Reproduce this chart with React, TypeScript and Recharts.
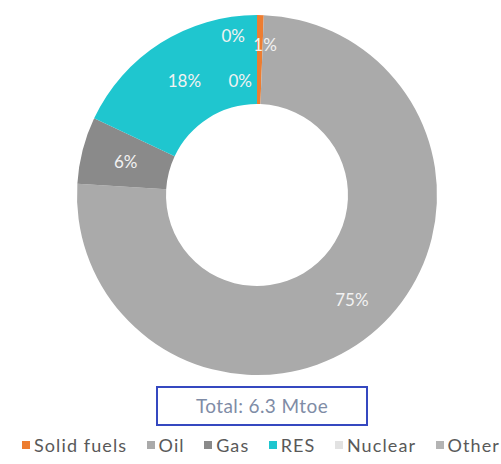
import React from "react";
import { Cell, Legend, Pie, PieChart } from "recharts";

const fuels = ["Solid fuels", "Oil", "Gas", "RES", "Nuclear", "Other"];
const shares = [0.6, 75.4, 6, 18, 0, 0];
const colors = ["#ED7D31", "#AAAAAA", "#8A8A8A", "#1FC6CF", "#E2E2E2", "#B4B4B4"];
const totalLabel = "Total: 6.3 Mtoe";

const data = fuels.map((name, i) => ({ name, value: shares[i] }));

// small nudges so the tiny slices' labels don't sit on top of each other
const labelNudge: { dr: number; da: number }[] = [
	{ dr: 15, da: -2 },
	{ dr: 6, da: 0 },
	{ dr: 0, da: 0 },
	{ dr: 0, da: 0 },
	{ dr: -20, da: 8.4 },
	{ dr: 26, da: 8.5 },
];

const RAD = Math.PI / 180;

function renderLabel(props: any) {
	const { cx, cy, midAngle, innerRadius, outerRadius, percent, index } = props;
	const nudge = labelNudge[index] || { dr: 0, da: 0 };
	const r = (innerRadius + outerRadius) / 2 + nudge.dr;
	const a = (midAngle + nudge.da) * RAD;
	const x = cx + r * Math.cos(a);
	const y = cy - r * Math.sin(a);
	return (
		<text
			x={x}
			y={y}
			fill="#f2f2f2"
			textAnchor="middle"
			dominantBaseline="central"
			fontSize={17}
			fontFamily="Lato, sans-serif"
		>
			{`${Math.round(percent * 100)}%`}
		</text>
	);
}

function LegendRow() {
	return (
		<div
			style={{
				display: "flex",
				justifyContent: "space-between",
				alignItems: "center",
				padding: "0 1px 0 22px",
				fontFamily: "Lato, sans-serif",
				fontSize: 18,
				letterSpacing: 1.1,
				color: "#595959",
			}}
		>
			{fuels.map((name, i) => (
				<span key={name} style={{ display: "flex", alignItems: "center" }}>
					<span style={{ width: 8, height: 8, background: colors[i], marginRight: 4 }} />
					{name}
				</span>
			))}
		</div>
	);
}

export default function App() {
	return (
		<div style={{ position: "absolute", left: 0, top: 0, width: 501, height: 464, background: "#fff" }}>
			<PieChart width={501} height={464} margin={{ top: 0, right: 0, bottom: 0, left: 0 }}>
				<Pie
					data={data}
					dataKey="value"
					nameKey="name"
					cx={257}
					cy={195}
					innerRadius={91}
					outerRadius={180}
					startAngle={90}
					endAngle={-270}
					stroke="none"
					label={renderLabel}
					labelLine={false}
					isAnimationActive={false}
				>
					{data.map((d, i) => (
						<Cell key={d.name} fill={colors[i]} />
					))}
				</Pie>
				<Legend
					content={() => <LegendRow />}
					wrapperStyle={{ top: 434, left: 0, width: 501 }}
				/>
			</PieChart>
			<div
				style={{
					position: "absolute",
					left: 156,
					top: 386,
					width: 208,
					height: 36,
					border: "2px solid #3548C0",
					color: "#7F8CA6",
					fontFamily: "Lato, sans-serif",
					fontSize: 19,
					letterSpacing: 0.4,
					lineHeight: "36px",
					textAlign: "center",
				}}
			>
				{totalLabel}
			</div>
		</div>
	);
}
